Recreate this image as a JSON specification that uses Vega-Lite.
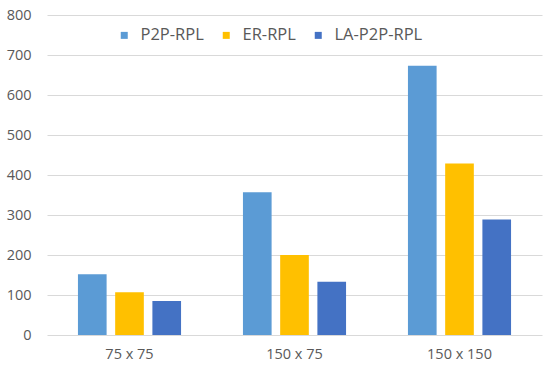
{
  "$schema": "https://vega.github.io/schema/vega-lite/v6.json",
  "autosize": "none",
  "width": 495,
  "height": 320,
  "padding": {"left": 47, "top": 15, "right": 8, "bottom": 40},
  "background": "white",
  "config": {
    "view": {"stroke": null},
    "font": "Open Sans",
    "axis": {"labelFont": "Open Sans", "labelColor": "#595959", "labelFontSize": 14.5}
  },
  "data": {
    "values": [
      {"size": "75 x 75", "method": "P2P-RPL", "value": 152},
      {"size": "75 x 75", "method": "ER-RPL", "value": 107},
      {"size": "75 x 75", "method": "LA-P2P-RPL", "value": 85},
      {"size": "150 x 75", "method": "P2P-RPL", "value": 357},
      {"size": "150 x 75", "method": "ER-RPL", "value": 200},
      {"size": "150 x 75", "method": "LA-P2P-RPL", "value": 133},
      {"size": "150 x 150", "method": "P2P-RPL", "value": 673},
      {"size": "150 x 150", "method": "ER-RPL", "value": 429},
      {"size": "150 x 150", "method": "LA-P2P-RPL", "value": 289}
    ]
  },
  "mark": {"type": "bar"},
  "encoding": {
    "x": {
      "field": "size", "type": "nominal", "sort": null,
      "scale": {"paddingInner": 0.33, "paddingOuter": 0.165},
      "axis": {"title": null, "labelAngle": 0, "domain": false, "ticks": false, "labelPadding": 12}
    },
    "xOffset": {
      "field": "method", "type": "nominal", "sort": ["P2P-RPL", "ER-RPL", "LA-P2P-RPL"],
      "scale": {"paddingInner": 0.23, "paddingOuter": 0.1}
    },
    "y": {
      "field": "value", "type": "quantitative",
      "scale": {"domain": [0, 800]},
      "axis": {"title": null, "values": [0,100,200,300,400,500,600,700,800], "labelOverlap": false, "domain": false, "ticks": false, "labelPadding": 16, "gridColor": "#d9d9d9", "gridWidth": 1}
    },
    "color": {
      "field": "method", "type": "nominal", "sort": ["P2P-RPL", "ER-RPL", "LA-P2P-RPL"],
      "scale": {"domain": ["P2P-RPL", "ER-RPL", "LA-P2P-RPL"], "range": ["#5B9BD5", "#FFC000", "#4472C4"]},
      "legend": {
        "title": null, "orient": "none", "direction": "horizontal",
        "legendX": 69, "legendY": 12,
        "symbolType": "square", "symbolSize": 49, "symbolStrokeWidth": 0,
        "labelFontSize": 16.5, "labelColor": "#595959", "labelFont": "Open Sans",
        "columnPadding": 14, "labelOffset": 8
      }
    }
  }
}
